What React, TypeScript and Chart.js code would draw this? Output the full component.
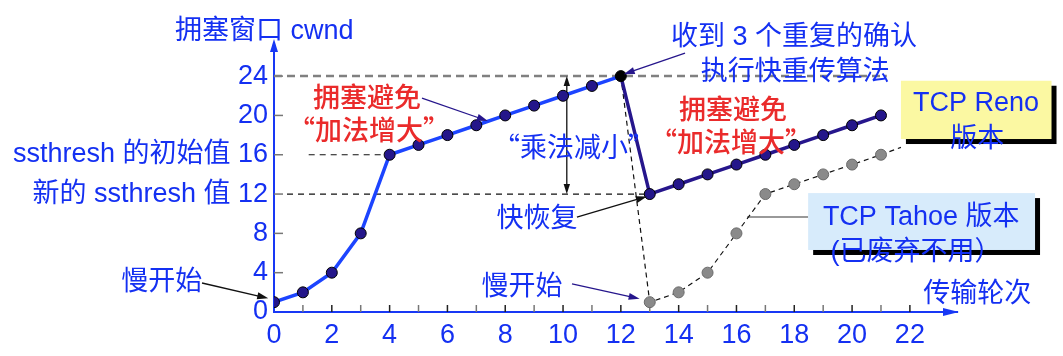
import React, { useEffect, useRef } from 'react';
import { Chart, registerables } from 'chart.js';

Chart.register(...registerables);

// ---------- data ----------
const rounds = [0, 1, 2, 3, 4, 5, 6, 7, 8, 9, 10, 11, 12, 13, 14, 15, 16, 17, 18, 19, 20, 21];
const renoCwnd = [1, 2, 4, 8, 16, 17, 18, 19, 20, 21, 22, 23, 24, 12, 13, 14, 15, 16, 17, 18, 19, 20];
const tahoeCwnd: (number | null)[] = [null, null, null, null, null, null, null, null, null, null, null, null, 24, 1, 2, 4, 8, 12, 13, 14, 15, 16];
const xTickValues = [0, 1, 2, 3, 4, 5, 6, 7, 8, 9, 10, 11, 12, 13, 14, 15, 16, 17, 18, 19, 20, 21, 22];
const yTickValues = [0, 4, 8, 12, 16, 20, 24];
const yTickPrefix: Record<number, string> = { 16: 'ssthresh 的初始值 ', 12: '新的 ssthresh 值 ' };
const ssthreshInitial = 16;
const ssthreshNew = 12;
const peakCwnd = 24;
const lossRound = 12;

// ---------- styling ----------
const FONT = "'Liberation Sans', Arial, 'Noto Sans CJK SC', sans-serif";
const CJK_FONT = "'Noto Sans CJK SC', 'Liberation Sans', sans-serif";
const BLUE_TEXT = '#1430f2';
const RED_TEXT = '#ea2b2b';
const AXIS_BLUE = '#1838f5';
const BRIGHT_LINE = '#1c44ff';
const NAVY = '#26168c';

type Txt = { text: string; x: number; y: number; color: string; weight?: number; align?: CanvasTextAlign; cjk?: boolean };
const annotationTexts: Txt[] = [
  { text: '拥塞窗口 cwnd', x: 2.75, y: 28.5, color: BLUE_TEXT, align: 'right' },
  { text: '传输轮次', x: 24.33, y: 1.73, color: BLUE_TEXT },
  { text: '拥塞避免', x: 3.22, y: 21.6, color: RED_TEXT, weight: 500 },
  { text: '“加法增大”', x: 3.29, y: 18.5, color: RED_TEXT, weight: 500, cjk: true },
  { text: '“乘法减小”', x: 10.38, y: 16.8, color: BLUE_TEXT, cjk: true },
  { text: '快恢复', x: 9.1, y: 9.36, color: BLUE_TEXT },
  { text: '收到 3 个重复的确认', x: 17.99, y: 27.97, color: BLUE_TEXT },
  { text: '执行快重传算法', x: 18.03, y: 24.4, color: BLUE_TEXT },
  { text: '拥塞避免', x: 15.88, y: 20.35, color: RED_TEXT, weight: 500 },
  { text: '“加法增大”', x: 15.81, y: 17.29, color: RED_TEXT, weight: 500, cjk: true },
  { text: '慢开始', x: -3.88, y: 2.95, color: BLUE_TEXT },
  { text: '慢开始', x: 8.58, y: 2.44, color: BLUE_TEXT },
];

type Arr = { x1: number; y1: number; x2: number; y2: number; color: string };
const annotationArrows: Arr[] = [
  { x1: 5.12, y1: 21.77, x2: 7.4, y2: 19.43, color: NAVY },
  { x1: 10.48, y1: 9.66, x2: 12.9, y2: 11.75, color: '#111' },
  { x1: 14.22, y1: 26.35, x2: 12.1, y2: 24.2, color: NAVY },
  { x1: -2.49, y1: 2.95, x2: -0.2, y2: 1.4, color: '#111' },
  { x1: 10.31, y1: 2.85, x2: 12.65, y2: 1.35, color: NAVY },
];

type Box = { x1: number; y1: number; x2: number; y2: number; fill: string; lines: { text: string; x: number; y: number }[] };
const boxes: Box[] = [
  {
    x1: 21.69, y1: 23.53, x2: 26.9, y2: 17.6, fill: '#fbf8a2',
    lines: [{ text: 'TCP Reno', x: 24.29, y: 21.26 }, { text: '版本', x: 24.33, y: 17.5 }],
  },
  {
    x1: 18.48, y1: 12.1, x2: 26.33, y2: 6.31, fill: '#d7ebfb',
    lines: [{ text: 'TCP Tahoe 版本', x: 22.39, y: 9.66 }, { text: '(已废弃不用）', x: 22.21, y: 6.1 }],
  },
];

function drawArrow(ctx: CanvasRenderingContext2D, x1: number, y1: number, x2: number, y2: number, color: string, width = 1.3, head = 11) {
  const ang = Math.atan2(y2 - y1, x2 - x1);
  const c = Math.cos(ang), s = Math.sin(ang);
  ctx.save();
  ctx.setLineDash([]);
  ctx.strokeStyle = color;
  ctx.fillStyle = color;
  ctx.lineWidth = width;
  ctx.beginPath();
  ctx.moveTo(x1, y1);
  ctx.lineTo(x2 - c * head * 0.7, y2 - s * head * 0.7);
  ctx.stroke();
  ctx.beginPath();
  ctx.moveTo(x2, y2);
  ctx.lineTo(x2 - head * c + head * 0.32 * s, y2 - head * s - head * 0.32 * c);
  ctx.lineTo(x2 - head * c - head * 0.32 * s, y2 - head * s + head * 0.32 * c);
  ctx.closePath();
  ctx.fill();
  ctx.restore();
}

const decorPlugin = {
  id: 'decor',
  beforeDatasetsDraw(chart: any) {
    const { ctx, chartArea } = chart;
    const xs = chart.scales.x, ys = chart.scales.y;
    ctx.save();
    ctx.lineWidth = 1.5;
    xs.ticks.forEach((t: any) => {
      if (t.value === 0) return;
      const x = xs.getPixelForValue(t.value);
      ctx.strokeStyle = t.value % 2 === 0 ? '#222' : '#777';
      ctx.beginPath();
      ctx.moveTo(x, chartArea.bottom);
      ctx.lineTo(x, chartArea.bottom - 7);
      ctx.stroke();
    });
    ys.ticks.forEach((t: any) => {
      if (t.value === 0) return;
      const y = ys.getPixelForValue(t.value);
      ctx.strokeStyle = '#777';
      ctx.beginPath();
      ctx.moveTo(chartArea.left, y);
      ctx.lineTo(chartArea.left + 9, y);
      ctx.stroke();
    });
    ctx.strokeStyle = '#808080';
    ctx.lineWidth = 2.5;
    ctx.setLineDash([8, 5]);
    ctx.beginPath();
    ctx.moveTo(chartArea.left, ys.getPixelForValue(peakCwnd));
    ctx.lineTo(xs.getPixelForValue(21.2), ys.getPixelForValue(peakCwnd));
    ctx.stroke();
    ctx.strokeStyle = '#111';
    ctx.lineWidth = 1.2;
    ctx.setLineDash([6, 5]);
    ctx.beginPath();
    ctx.moveTo(xs.getPixelForValue(1.2), ys.getPixelForValue(ssthreshInitial));
    ctx.lineTo(xs.getPixelForValue(4), ys.getPixelForValue(ssthreshInitial));
    ctx.moveTo(xs.getPixelForValue(0.45), ys.getPixelForValue(ssthreshNew));
    ctx.lineTo(xs.getPixelForValue(lossRound + 1), ys.getPixelForValue(ssthreshNew));
    ctx.stroke();
    ctx.setLineDash([5, 4]);
    ctx.beginPath();
    ctx.moveTo(xs.getPixelForValue(21), ys.getPixelForValue(16));
    ctx.lineTo(xs.getPixelForValue(21.69), ys.getPixelForValue(16.75));
    ctx.stroke();
    ctx.setLineDash([]);
    ctx.strokeStyle = '#999';
    ctx.lineWidth = 2;
    ctx.beginPath();
    ctx.moveTo(xs.getPixelForValue(16.37), ys.getPixelForValue(9.66));
    ctx.lineTo(xs.getPixelForValue(18.48), ys.getPixelForValue(9.66));
    ctx.stroke();
    const mx = xs.getPixelForValue(10.13);
    const yTop = ys.getPixelForValue(peakCwnd), yBot = ys.getPixelForValue(ssthreshNew);
    const ym = (yTop + yBot) / 2;
    drawArrow(ctx, mx, ym, mx, yTop, '#111', 1.3, 10);
    drawArrow(ctx, mx, ym, mx, yBot, '#111', 1.3, 10);
    ctx.restore();
  },
  afterDatasetsDraw(chart: any) {
    const { ctx, chartArea } = chart;
    const xs = chart.scales.x, ys = chart.scales.y;
    const X = (v: number) => xs.getPixelForValue(v);
    const Y = (v: number) => ys.getPixelForValue(v);
    ctx.save();
    ctx.fillStyle = AXIS_BLUE;
    ctx.beginPath();
    ctx.moveTo(chartArea.left, chartArea.top - 4);
    ctx.lineTo(chartArea.left - 4, chartArea.top + 9);
    ctx.lineTo(chartArea.left + 4, chartArea.top + 9);
    ctx.closePath();
    ctx.fill();
    ctx.beginPath();
    ctx.moveTo(chartArea.right + 2, chartArea.bottom);
    ctx.lineTo(chartArea.right - 14, chartArea.bottom - 4);
    ctx.lineTo(chartArea.right - 14, chartArea.bottom + 4);
    ctx.closePath();
    ctx.fill();

    annotationArrows.forEach((a) => drawArrow(ctx, X(a.x1), Y(a.y1), X(a.x2), Y(a.y2), a.color));

    boxes.forEach((b) => {
      const l = X(b.x1), r = X(b.x2), t = Y(b.y1), bt = Y(b.y2);
      ctx.fillStyle = '#000';
      ctx.fillRect(l + 5, t + 5, r - l, bt - t);
      ctx.fillStyle = b.fill;
      ctx.fillRect(l, t, r - l, bt - t);
      ctx.font = `27px ${FONT}`;
      ctx.textAlign = 'center';
      ctx.textBaseline = 'middle';
      ctx.fillStyle = BLUE_TEXT;
      b.lines.forEach((ln) => ctx.fillText(ln.text, X(ln.x), Y(ln.y)));
    });

    annotationTexts.forEach((t) => {
      ctx.font = `${t.weight || 400} 27px ${t.cjk ? CJK_FONT : FONT}`;
      ctx.textAlign = t.align || 'center';
      ctx.textBaseline = 'middle';
      ctx.fillStyle = t.color;
      ctx.fillText(t.text, X(t.x), Y(t.y));
    });
    ctx.restore();
  },
};

export default function App() {
  const canvasRef = useRef<HTMLCanvasElement | null>(null);

  useEffect(() => {
    document.body.style.margin = '0';
    const canvas = canvasRef.current;
    if (!canvas) return;
    const renoData = rounds.map((r, i) => ({ x: r, y: renoCwnd[i] }));
    const tahoeData = rounds.map((r, i) => ({ x: r, y: tahoeCwnd[i] }));
    const chart = new Chart(canvas, {
      type: 'line',
      data: {
        datasets: [
          {
            label: 'TCP Reno',
            data: renoData as any,
            borderWidth: 3.5,
            borderColor: BRIGHT_LINE,
            segment: {
              borderColor: (c: any) => (c.p0DataIndex < lossRound ? BRIGHT_LINE : NAVY),
            },
            pointRadius: 5.5,
            pointBackgroundColor: renoData.map((_, i) => (i === lossRound ? '#000' : '#24168a')),
            pointBorderColor: '#000',
            pointBorderWidth: 1,
            tension: 0,
            order: 1,
          },
          {
            label: 'TCP Tahoe',
            data: tahoeData as any,
            borderWidth: 1.2,
            borderColor: '#111',
            borderDash: [5, 4],
            pointRadius: tahoeData.map((_, i) => (i === lossRound ? 0 : 5.5)),
            pointBackgroundColor: '#8a8a8a',
            pointBorderColor: '#6a6a6a',
            pointBorderWidth: 1,
            spanGaps: false,
            tension: 0,
            order: 2,
          },
        ],
      },
      options: {
        animation: false,
        responsive: false,
        devicePixelRatio: 1,
        layout: { padding: { top: 43, right: 106, left: 0, bottom: 0 } },
        plugins: { legend: { display: false }, tooltip: { enabled: false } },
        scales: {
          x: {
            type: 'linear',
            min: 0,
            max: 23.63,
            grid: { display: false, drawTicks: false },
            border: { display: true, color: AXIS_BLUE, width: 2 },
            afterBuildTicks: (s: any) => {
              s.ticks = xTickValues.map((v) => ({ value: v }));
            },
            afterFit: (s: any) => {
              s.height = 44;
            },
            ticks: {
              autoSkip: false,
              maxRotation: 0,
              minRotation: 0,
              padding: 7,
              color: BLUE_TEXT,
              font: { family: FONT, size: 27 },
              callback: (v: any) => (Number(v) % 2 === 0 ? String(v) : ''),
            },
          },
          y: {
            type: 'linear',
            min: 0,
            max: 27.37,
            grid: { display: false, drawTicks: false },
            border: { display: true, color: AXIS_BLUE, width: 2 },
            afterBuildTicks: (s: any) => {
              s.ticks = yTickValues.map((v) => ({ value: v }));
            },
            afterFit: (s: any) => {
              s.width = 274;
            },
            ticks: {
              padding: 6,
              color: BLUE_TEXT,
              font: { family: FONT, size: 27 },
              callback: (v: any) => (yTickPrefix[Number(v)] || '') + String(v),
            },
          },
        },
      },
      plugins: [decorPlugin],
    });
    return () => chart.destroy();
  }, []);

  return (
    <div style={{ position: 'absolute', left: 0, top: 0, width: 1063, height: 356 }}>
      <canvas ref={canvasRef} width={1063} height={356} />
    </div>
  );
}
